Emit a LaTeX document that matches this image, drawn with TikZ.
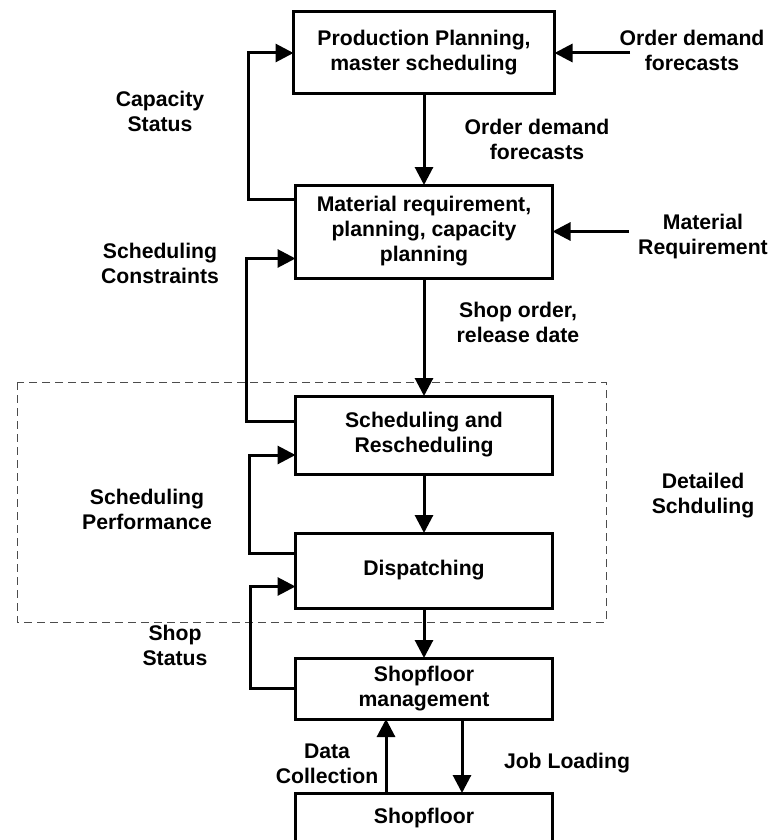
\documentclass[tikz,border=0pt]{standalone}
\usepackage{fontspec}
\setmainfont{Liberation Sans}
\usepackage{tikz}
\usetikzlibrary{
  arrows.meta,
  positioning
}

\begin{document}
\begin{tikzpicture}[x=1pt, y=-1pt, >={Triangle[length=18pt,width=18pt]},
  every node/.style={font=\fontsize{21.2}{25}\selectfont\bfseries, align=center},
  box/.style={draw, line width=3pt, outer sep=0pt, minimum width=257pt},
  flow/.style={->, line width=3pt}]
  \useasboundingbox (0,0) rectangle (771,840);
  \node [box, minimum width=261pt, minimum height=82pt] (plan) at (424,53) {Production Planning,\\ master scheduling};
  \node [box, minimum height=93pt, below=91pt of plan] (mrp) {Material requirement,\\ planning, capacity\\ planning};
  \node [box, minimum height=78pt, below=118pt of mrp] (sched) {Scheduling and\\ Rescheduling};
  \node [box, minimum height=75pt, below=59pt of sched] (disp) {Dispatching};
  \node [box, minimum height=61pt, below=50pt of disp] (sfm) {Shopfloor\\ management};
  \node [box, minimum height=50pt, below=74pt of sfm] (floor) {Shopfloor};
  % detailed scheduling frame
  \draw [black!70, line width=1pt, dash pattern=on 8pt off 5pt] (17,382) rectangle (606,622);
  \node (detail) at (703,496) {Detailed\\ Schduling};
  % labels
  \node (odfin) at (692,50) {Order demand\\ forecasts};
  \node (odf) at (537,139) {Order demand\\ forecasts};
  \node (matreq) at (703,237) {Material\\ Requirement};
  \node (capstat) at (160,111) {Capacity\\ Status};
  \node (schedcons) at (160,263) {Scheduling\\ Constraints};
  \node (shoporder) at (518,322) {Shop order,\\ release date};
  \node (schedperf) at (147,509) {Scheduling\\ Performance};
  \node (shopstat) at (175,645) {Shop\\ Status};
  \node (datacoll) at (327,764) {Data\\ Collection};
  \node (jobload) at (567,763) {Job Loading};
  \coordinate (odfstart) at (630,53);
  \coordinate (mrstart) at (629,231.5);
  % main flow
  \draw [flow] (odfstart) -- (plan.east);
  \draw [flow] (mrstart) -- (mrp.east);
  \draw [flow] (plan) -- (mrp);
  \draw [flow] (mrp) -- (sched);
  \draw [flow] (sched) -- (disp);
  \draw [flow] (disp) -- (sfm);
  \draw [flow] ([xshift=38pt]sfm.south) -- ([xshift=38pt]floor.north);
  \draw [flow] ([xshift=-38pt]floor.north) -- ([xshift=-38pt]sfm.south);
  % feedback loops
  \draw [flow] ([yshift=-14pt]mrp.north west) -- ++(-47,0) |- (plan.west);
  \draw [flow] ([yshift=-25pt]sched.north west) -- ++(-49,0) |- ([yshift=-27pt]mrp.west);
  \draw [flow] ([yshift=-20pt]disp.north west) -- ++(-46,0) |- ([yshift=-20pt]sched.west);
  \draw [flow] (sfm.west) -- ++(-45,0) |- ([yshift=-16pt]disp.west);
\end{tikzpicture}
\end{document}
